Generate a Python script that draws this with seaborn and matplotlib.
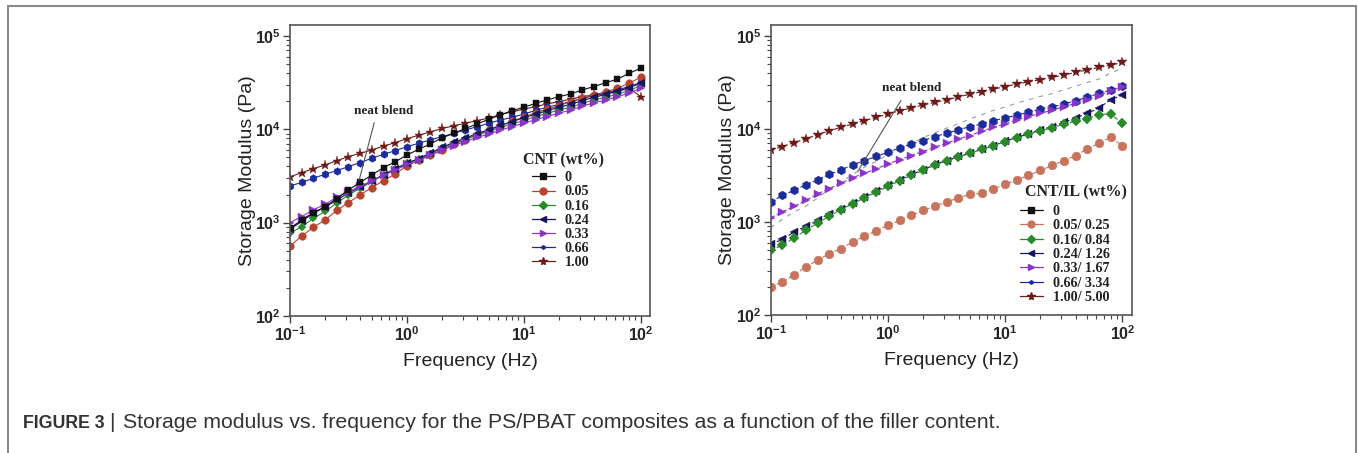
import numpy as np
import pandas as pd
import matplotlib
matplotlib.use("Agg")
import matplotlib.pyplot as plt
import seaborn as sns
from matplotlib.lines import Line2D
from matplotlib.patches import Rectangle
from matplotlib.ticker import FuncFormatter, LogLocator, NullFormatter

# ---------------- data ----------------
freq = [0.1, 0.126, 0.158, 0.2, 0.251, 0.316, 0.398, 0.501, 0.631, 0.794,
        1.0, 1.26, 1.58, 2.0, 2.51, 3.16, 3.98, 5.01, 6.31, 7.94,
        10.0, 12.6, 15.8, 20.0, 25.1, 31.6, 39.8, 50.1, 63.1, 79.4, 100.0]

# left panel: CNT (wt%)
cnt_title = "CNT (wt%)"
cnt_labels = ["0", "0.05", "0.16", "0.24", "0.33", "0.66", "1.00"]
cnt0 = [870, 1070, 1280, 1480, 1810, 2240, 2700, 3240, 3890, 4480, 5300, 6100, 6950, 8100, 9060,
        10200, 11400, 12800, 14250, 15850, 17200, 19000, 20600, 22400, 23900, 26400, 28700, 31600,
        34400, 39800, 45100]
cnt005 = [562, 720, 890, 1070, 1350, 1640, 1980, 2370, 2820, 3320, 4050, 4650, 5300, 6050, 6900,
          7750, 8750, 9750, 10900, 12200, 13500, 15000, 16400, 17800, 19800, 21400, 23300, 25300,
          27500, 31100, 36100]
cnt016 = [770, 905, 1110, 1320, 1620, 1980, 2330, 2760, 3240, 3720, 4320, 4780, 5450, 6300, 7080,
          7810, 8710, 9440, 10500, 11400, 12400, 13700, 14800, 16100, 17200, 19000, 20600, 22000,
          23900, 25900, 29500]
cnt024 = [850, 1030, 1260, 1470, 1750, 2080, 2400, 2800, 3270, 3750, 4350, 4850, 5550, 6400, 7250,
          8050, 9000, 9900, 11000, 12100, 13300, 14500, 15800, 17200, 18500, 20300, 22000, 23600,
          25600, 28000, 31000]
cnt033 = [1000, 1160, 1370, 1580, 1870, 2140, 2450, 2800, 3220, 3650, 4200, 4650, 5250, 6000, 6700,
          7400, 8200, 8900, 9800, 10700, 11600, 12700, 13700, 14900, 16100, 17700, 19200, 20600,
          22300, 24500, 27500]
cnt066 = [2470, 2700, 2990, 3300, 3610, 3980, 4400, 4900, 5390, 5900, 6520, 7080, 7690, 8340, 9060,
          9830, 10660, 11600, 12600, 13400, 14600, 15900, 17200, 18500, 19800, 21400, 22800, 24300,
          26400, 28700, 31800]
cnt100 = [3100, 3430, 3790, 4150, 4610, 5100, 5530, 6000, 6620, 7200, 7940, 8630, 9370, 10200, 10900,
          11600, 12400, 13200, 14400, 15400, 16400, 17500, 18700, 19800, 21000, 22400, 23300, 24300,
          25500, 27500, 22400]

# right panel: CNT/IL (wt%)
il_title = "CNT/IL (wt%)"
il_labels = ["0", "0.05/ 0.25", "0.16/ 0.84", "0.24/ 1.26", "0.33/ 1.67", "0.66/ 3.34", "1.00/ 5.00"]
il0 = cnt0
il005 = [200, 227, 269, 330, 389, 457, 518, 611, 702, 801, 921, 1040, 1180, 1330, 1480, 1640, 1810,
         1980, 2040, 2280, 2540, 2840, 3160, 3580, 4050, 4570, 5180, 6100, 7020, 8130, 6620]
il016 = [497, 562, 677, 813, 977, 1150, 1360, 1570, 1820, 2090, 2410, 2780, 3180, 3580, 4080, 4500,
         5000, 5450, 6050, 6580, 7300, 8050, 8750, 9600, 10240, 11300, 12100, 12800, 14250, 14500, 11500]
il024 = [575, 650, 780, 900, 1040, 1230, 1390, 1600, 1850, 2150, 2470, 2840, 3240, 3630, 4150, 4570,
         5060, 5500, 6100, 6620, 7380, 8130, 8830, 9770, 10600, 11750, 13100, 14700, 16800, 20600, 23300]
il033 = [1110, 1280, 1470, 1710, 2010, 2280, 2620, 2990, 3350, 3720, 4220, 4660, 5180, 5720, 6370,
         7020, 7810, 8500, 9450, 10400, 11300, 12500, 13600, 14700, 15900, 17300, 18800, 20600, 22800,
         25700, 28500]
il066 = [1640, 1930, 2190, 2520, 2840, 3240, 3630, 4110, 4570, 5060, 5620, 6250, 6920, 7500, 8280,
         8990, 9770, 10600, 11300, 12300, 13100, 14100, 15100, 16200, 17300, 18500, 20100, 21900, 24100,
         26200, 29100]
il100 = [5960, 6460, 7130, 7810, 8710, 9550, 10400, 11300, 12300, 13300, 14500, 15700, 16800, 18100,
         19300, 20600, 22000, 23700, 25100, 26800, 28500, 30400, 32200, 33800, 35800, 38000, 40500,
         43200, 45800, 48500, 51800]

caption_bold = "FIGURE 3"
caption_text = "Storage modulus vs. frequency for the PS/PBAT composites as a function of the filler content."

# ---------------- style ----------------
sns.set_theme(style="white")
plt.rcParams["font.family"] = ["Liberation Sans", "DejaVu Sans"]
plt.rcParams["mathtext.fontset"] = "custom"
plt.rcParams["mathtext.rm"] = "Liberation Sans"
plt.rcParams["mathtext.bf"] = "Liberation Sans:bold"

markers = ["s", "o", "D", "<", ">", "h", "*"]
msizes = [5, 5.5, 4.2, 5.5, 5.5, 5.5, 6.5]
left_colors = ["#111111", "#b8432f", "#2a8a2a", "#16165e", "#8b35c8", "#1c2c9c", "#6e1a1a"]
right_colors = ["#111111", "#c8735c", "#2a8a2a", "#16165e", "#8b35c8", "#1c2c9c", "#6e1a1a"]

W, H = 1358, 453
fig = plt.figure(figsize=(W / 100, H / 100), dpi=100)

axL = fig.add_axes([290 / W, 1 - 316 / H, 360 / W, 291 / H])
axR = fig.add_axes([770.7 / W, 1 - 315 / H, 361 / W, 290 / H])

serif = ["Liberation Serif", "DejaVu Serif"]


def style_axes(ax):
    ax.set_xscale("log")
    ax.set_yscale("log")
    ax.set_xlim(0.1, 120)
    ax.set_ylim(100, 1.31e5)
    fmt = FuncFormatter(lambda v, p: r"$\mathbf{10^{%d}}$" % int(round(np.log10(v))))
    ax.xaxis.set_major_locator(LogLocator(base=10, numticks=10))
    ax.yaxis.set_major_locator(LogLocator(base=10, numticks=10))
    ax.xaxis.set_minor_locator(LogLocator(base=10, subs=np.arange(2, 10), numticks=20))
    ax.yaxis.set_minor_locator(LogLocator(base=10, subs=np.arange(2, 10), numticks=20))
    ax.xaxis.set_major_formatter(fmt)
    ax.yaxis.set_major_formatter(fmt)
    ax.xaxis.set_minor_formatter(NullFormatter())
    ax.yaxis.set_minor_formatter(NullFormatter())
    ax.tick_params(which="major", direction="out", length=5, width=1, color="#444444",
                   labelsize=11.5, pad=1.5, bottom=True, left=True, top=False, right=False)
    ax.tick_params(which="minor", direction="out", length=3, width=0.8, color="#444444",
                   bottom=True, left=True, top=False, right=False)
    for s in ax.spines.values():
        s.set_color("#555555")
        s.set_linewidth(1.2)
    ax.set_xlabel("Frequency (Hz)", fontsize=14, color="#222222")
    ax.set_ylabel("Storage Modulus (Pa)", fontsize=14, color="#222222")
    ax.xaxis.set_label_coords(0.5, -46 / 291)
    ax.yaxis.set_label_coords(-43 / 360, 0.5)
    ax.xaxis.label.set_va("center")
    ax.yaxis.label.set_va("center")
    ax.grid(False)


def px_to_axes(ax, x_px, y_px):
    """figure pixel (from top-left) -> axes fraction"""
    fx, fy = x_px / W, 1 - y_px / H
    return ax.transAxes.inverted().transform(fig.transFigure.transform((fx, fy)))


def make_legend(ax, colors, labels, title, title_xy, first_y, spacing, handle_x):
    handles = [Line2D([], [], color=colors[i], marker=markers[i],
                      markersize=(2.5 if i == 5 else msizes[i] * 0.9), linewidth=0.9)
               for i in range(len(labels))]
    tx, ty = px_to_axes(ax, *title_xy)
    ax.text(tx, ty, title, transform=ax.transAxes, ha="left", va="center",
            fontfamily=serif, fontweight="bold", fontsize=11.5, color="#222222")
    fs = 10.2
    fs_px = fs * 100 / 72
    top_y = first_y - spacing / 2 - 0.5
    lx, ly = px_to_axes(ax, handle_x, top_y)
    leg = ax.legend(handles, labels, loc="upper left", bbox_to_anchor=(lx, ly),
                    frameon=False, handlelength=1.6, handletextpad=0.7,
                    labelspacing=(spacing - fs_px) / fs_px, borderpad=0, borderaxespad=0,
                    prop={"family": serif, "weight": "bold", "size": fs})
    for t in leg.get_texts():
        t.set_color("#222222")
    return leg


# ---------------- left panel ----------------
left_series = [cnt0, cnt005, cnt016, cnt024, cnt033, cnt066, cnt100]
for i in [6, 5, 1, 2, 3, 4, 0]:
    df = pd.DataFrame({"f": freq, "G": left_series[i]})
    sns.lineplot(data=df, x="f", y="G", ax=axL, color=left_colors[i], marker=markers[i],
                 markersize=msizes[i], markeredgewidth=0.3, markeredgecolor=left_colors[i],
                 linewidth=0.8, legend=False)
style_axes(axL)
make_legend(axL, left_colors, cnt_labels, cnt_title, (523, 160), 179.5, 15.3, 532)

axL.annotate("", xy=(0.384, 2640), xytext=(0.533, 12600),
             arrowprops=dict(arrowstyle="-", color="#555555", lw=0.8))
axL.text(0.637, 15700, "neat blend", ha="center", va="center", fontsize=9.5,
         fontfamily=serif, fontweight="bold", color="#222222")

# ---------------- right panel ----------------
right_series = [il0, il005, il016, il024, il033, il066, il100]
df0 = pd.DataFrame({"f": freq, "G": il0})
sns.lineplot(data=df0, x="f", y="G", ax=axR, color="#9a9a9a", linewidth=0.8,
             linestyle=(0, (4, 5)), legend=False)
for i in [6, 5, 4, 3, 2, 1]:
    df = pd.DataFrame({"f": freq, "G": right_series[i]})
    sns.lineplot(data=df, x="f", y="G", ax=axR, color=right_colors[i], marker=markers[i],
                 markersize=msizes[i] + 0.8, markeredgewidth=0.3, markeredgecolor=right_colors[i],
                 linewidth=0.8, linestyle=(0, (4, 2)), legend=False)
style_axes(axR)
make_legend(axR, right_colors, il_labels, il_title, (1025, 192), 213, 15.6, 1020)

axR.annotate("", xy=(0.538, 3300), xytext=(1.33, 21500),
             arrowprops=dict(arrowstyle="-", color="#555555", lw=0.8))
axR.text(1.59, 27300, "neat blend", ha="center", va="center", fontsize=9.5,
         fontfamily=serif, fontweight="bold", color="#222222")

# ---------------- outer frame & caption ----------------
fig.patches.append(Rectangle((8 / W, -0.2), (1356 - 8) / W, 1.2 - 6 / H,
                             transform=fig.transFigure, fill=False,
                             edgecolor="#8a8a8a", linewidth=1.5))
yb = 1 - 428 / H
bold = fig.text(22.7 / W, yb, caption_bold, fontsize=14.5, fontweight="bold", color="#333333",
                va="baseline")
bar = fig.text(109 / W, yb, "|", fontsize=15, color="#333333", va="baseline")
cap = fig.text(123 / W, yb, caption_text, fontsize=15, color="#333333", va="baseline")

# fit caption pieces to the reference extents
fig.canvas.draw()
bb = bold.get_window_extent()
bold.set_fontsize(14.5 * (105 - 22.7) / bb.width)
bb = cap.get_window_extent()
cap.set_fontsize(15 * (1003 - 123) / bb.width)

fig.savefig("out.png", dpi=100)
